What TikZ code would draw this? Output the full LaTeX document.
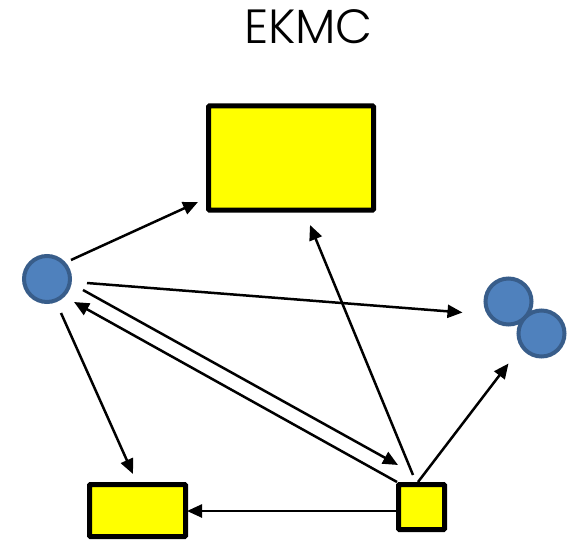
\documentclass[tikz,border=0pt]{standalone}
\usepackage{fontspec}
\setmainfont{Poppins}
\newfontfamily\titlefont{Poppins Light}
\usetikzlibrary{calc,arrows.meta}
\definecolor{boxfill}{HTML}{FFFF00}
\definecolor{ballfill}{HTML}{4F81BD}
\definecolor{balledge}{HTML}{385D8A}
\tikzset{
  box/.style={draw=black, line width=5pt, fill=boxfill, inner sep=0pt, rounded corners=1pt},
  ball/.style={circle, draw=balledge, line width=4pt, fill=ballfill, inner sep=0pt, minimum size=46pt},
  arr/.style={line width=2.5pt, -{Triangle[length=15pt,width=13pt]}},
}
\begin{document}
\begin{tikzpicture}[x=1pt,y=-1pt]
\useasboundingbox (0,0) rectangle (567,540);
% title
\node[anchor=base, font=\titlefont\fontsize{48}{52}\selectfont, inner sep=0pt] (title) at (308.5,44) {EKMC};
% boxes
\node[box, minimum width=165pt, minimum height=104pt] (big) at (291,158) {};
\node[box, minimum width=96pt, minimum height=52pt] (bl) at (137.5,510.5) {};
\node[box, minimum width=46pt, minimum height=45pt] (sq) at (421.5,507) {};
% particles
\node[ball] (c1) at (47,279) {};
\node[ball] (d1) at (508.5,301.5) {};
\node[ball] (d2) at (541.5,333.5) {};
% connectors
\draw[arr] ($(c1)+(24,-19)$) -- ($(big)+(-93,44)$);
\draw[arr] ($(c1)+(40,4)$) -- ($(d1)+(-46,11)$);
\draw[arr] ($(c1)+(14,34)$) -- ($(bl)+(-4.5,-36.5)$);
\draw[arr] ($(c1)+(36,11)$) -- ($(sq)+(-23.5,-42)$);
\draw[arr] ($(sq)+(-24.5,-25)$) -- ($(c1)+(27,23)$);
\draw[arr] ($(sq)+(-8.5,-32)$) -- ($(big)+(19,67)$);
\draw[arr] ($(sq)+(-3.5,-25)$) -- ($(d2)+(-33,30)$);
\draw[arr] ($(sq)+(-25.5,4)$) -- ($(bl)+(49.5,0.5)$);
\end{tikzpicture}
\end{document}
